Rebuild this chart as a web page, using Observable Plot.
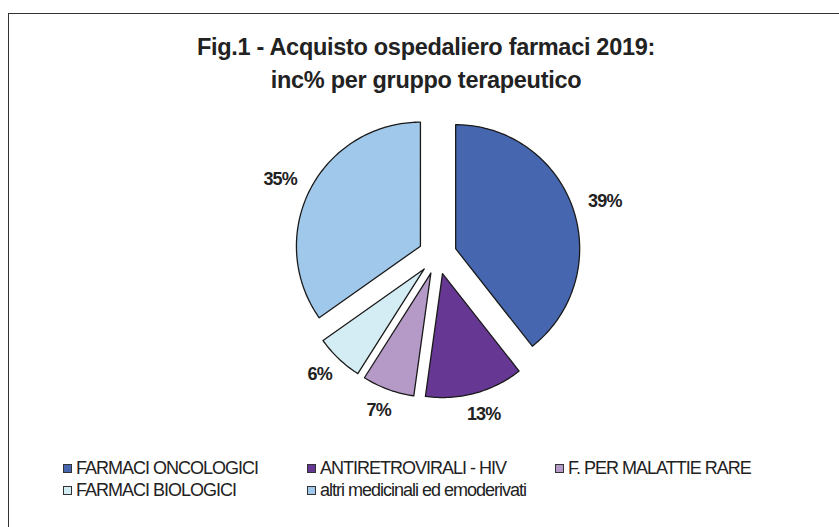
<!DOCTYPE html>
<html>
<head>
<meta charset="utf-8">
<script src="https://cdn.jsdelivr.net/npm/d3@7"></script>
<script src="https://cdn.jsdelivr.net/npm/@observablehq/plot@0.6"></script>
<style>
  html, body { margin: 0; padding: 0; background: #fff; }
  body { width: 839px; height: 527px; overflow: hidden; position: relative; font-family: "Liberation Sans", Arial, sans-serif; }
  #frame { position: absolute; left: 8px; top: 13px; width: 850px; height: 540px; border: 1.5px solid #333; box-sizing: border-box; }
  .title { position: absolute; left: 0; width: 852px; text-align: center; font-weight: bold; font-size: 23.5px; line-height: 28px; color: #222; letter-spacing: -0.3px; }
  #chart { position: absolute; left: 0; top: 100px; }
  .leg { position: absolute; font-size: 18px; color: #222; letter-spacing: -1px; white-space: nowrap; line-height: 20px; }
  .sw { position: absolute; width: 7px; height: 7px; border: 1px solid #333; }
</style>
</head>
<body>
<div id="frame"></div>
<div class="title" style="top:33px">Fig.1 - Acquisto ospedaliero farmaci 2019:</div>
<div class="title" style="top:66px">inc% per gruppo terapeutico</div>
<div id="chart"></div>
<div id="legend"></div>
<script>
// ---- data ----
const categories = ["FARMACI ONCOLOGICI", "ANTIRETROVIRALI - HIV", "F. PER MALATTIE RARE", "FARMACI BIOLOGICI", "altri medicinali ed emoderivati"];
const shares = [39.4, 12.8, 6.8, 6.2, 34.8];
const colors = ["#4667B0", "#663894", "#B59AC8", "#D4ECF3", "#A0C8EA"];

// ---- layout ----
const W = 839, H = 340;
const cx = 437, cy = 154.5, R = 124;
const explode = 0.155;

const total = d3.sum(shares);
let acc = 0;
const slices = categories.map((name, i) => {
  const a0 = acc / total * 2 * Math.PI;
  acc += shares[i];
  const a1 = acc / total * 2 * Math.PI;
  return {name, value: shares[i], a0, a1, mid: (a0 + a1) / 2, color: colors[i]};
});

// polygon points for each exploded slice (unit radius coordinates, y downward)
const pts = [];
for (const s of slices) {
  const ox = explode * Math.sin(s.mid), oy = -explode * Math.cos(s.mid);
  pts.push({name: s.name, x: ox, y: oy});
  const n = Math.max(8, Math.ceil((s.a1 - s.a0) / 0.02));
  for (let k = 0; k <= n; k++) {
    const a = s.a0 + (s.a1 - s.a0) * k / n;
    pts.push({name: s.name, x: ox + Math.sin(a), y: oy - Math.cos(a)});
  }
}

// label: outside end of exploded slice, shifted by half the text box
const labels = slices.map(s => {
  const text = Math.round(s.value / total * 100) + "%";
  const hw = text.length * 6.3, hh = 7, gap = 15;
  const sx = Math.sin(s.mid), sy = -Math.cos(s.mid);
  const r = 1 + explode + gap / R;
  return {text, x: r * sx + hw * sx / R, y: r * sy + hh * sy / R};
});

const plot = Plot.plot({
  width: W, height: H,
  margin: 0,
  x: {domain: [-1, 1], range: [cx - R, cx + R], axis: null},
  y: {domain: [-1, 1], range: [cy - R, cy + R], axis: null},
  color: {domain: categories, range: colors},
  marks: [
    Plot.line(pts, {x: "x", y: "y", z: "name", fill: "name", stroke: "#1a1a1a", strokeWidth: 1.3, curve: "linear-closed"}),
    Plot.text(labels, {x: "x", y: "y", text: "text", fontSize: 18, fontWeight: "bold", fill: "#222", fontFamily: "Liberation Sans, Arial, sans-serif"})
  ]
});
plot.querySelectorAll("text").forEach(t => t.setAttribute("letter-spacing", "-0.8"));
document.getElementById("chart").append(plot);

// ---- legend ----
const legPos = [[63, 458], [307, 458], [555, 458], [63, 480], [307, 480]];
const leg = document.getElementById("legend");
categories.forEach((c, i) => {
  const [lx, ly] = legPos[i];
  const sw = document.createElement("div");
  sw.className = "sw";
  sw.style.left = lx + "px"; sw.style.top = (ly + 6) + "px"; sw.style.background = colors[i];
  leg.append(sw);
  const t = document.createElement("div");
  t.className = "leg";
  t.style.left = (lx + 13) + "px"; t.style.top = ly + "px";
  t.textContent = c;
  leg.append(t);
});
</script>
</body>
</html>
